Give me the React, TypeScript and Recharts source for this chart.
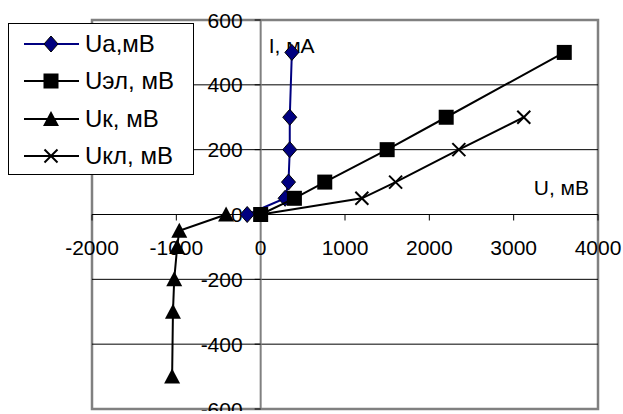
import React from 'react';
import {
  ScatterChart,
  Scatter,
  XAxis,
  YAxis,
  ReferenceLine,
  ReferenceDot,
  ReferenceArea,
  Legend,
} from 'recharts';

// current, mA (shared by Ua and Uэл)
const currentMA = [0, 50, 100, 200, 300, 500];
const uaMV = [-160, 290, 330, 345, 345, 370];
const uelMV = [0, 400, 760, 1500, 2200, 3600];
// Uк is plotted against negative current
const ukCurrent = [0, -50, -100, -200, -300, -500];
const ukMV = [-410, -965, -990, -1025, -1040, -1050];
const uklCurrent = [0, 50, 100, 200, 300];
const uklMV = [0, 1200, 1600, 2350, 3120];

const xTicks = [-2000, -1000, 0, 1000, 2000, 3000, 4000];
const yTicks = [-600, -400, -200, 0, 200, 400, 600];
const gridLines = [-400, -200, 200, 400];

const FONT = '"Liberation Sans", Arial, sans-serif';
const TICK_SIZE = 21;

const toPoints = (xs: number[], ys: number[]) => xs.map((x, i) => ({ x, y: ys[i] }));

const Diamond = ({ cx, cy }: any) => (
  <polygon
    points={`${cx},${cy - 8} ${cx + 7},${cy} ${cx},${cy + 8} ${cx - 7},${cy}`}
    fill="#000080"
    stroke="#000"
    strokeWidth={1}
  />
);
const Square = ({ cx, cy }: any) => <rect x={cx - 7.5} y={cy - 7.5} width={15} height={15} fill="#000" />;
const Triangle = ({ cx, cy }: any) => (
  <polygon points={`${cx},${cy - 8} ${cx + 8},${cy + 7} ${cx - 8},${cy + 7}`} fill="#000" />
);
const Cross = ({ cx, cy }: any) => (
  <g stroke="#000" strokeWidth={2}>
    <line x1={cx - 6.5} y1={cy - 6.5} x2={cx + 6.5} y2={cy + 6.5} />
    <line x1={cx - 6.5} y1={cy + 6.5} x2={cx + 6.5} y2={cy - 6.5} />
  </g>
);

const series = [
  { name: 'Ua,мВ', data: toPoints(uaMV, currentMA), color: '#000080', Shape: Diamond },
  { name: 'Uэл, мВ', data: toPoints(uelMV, currentMA), color: '#000', Shape: Square },
  { name: 'Uк, мВ', data: toPoints(ukMV, ukCurrent), color: '#000', Shape: Triangle },
  { name: 'Uкл, мВ', data: toPoints(uklMV, uklCurrent), color: '#000', Shape: Cross },
];

const LegendBox = () => (
  <div
    style={{
      width: 184,
      height: 149,
      border: '1px solid #000',
      background: '#fff',
      fontFamily: FONT,
      fontSize: 24,
      boxSizing: 'content-box',
      paddingTop: 1,
    }}
  >
    {series.map((s) => (
      <div key={s.name} style={{ display: 'flex', alignItems: 'center', height: 37.5 }}>
        <svg width={72} height={20} style={{ marginLeft: 8, flex: 'none' }}>
          <line x1={7} y1={10} x2={62} y2={10} stroke={s.color} strokeWidth={2} />
          <s.Shape cx={34} cy={10} />
        </svg>
        <span style={{ marginLeft: -4, color: '#000', whiteSpace: 'nowrap' }}>{s.name}</span>
      </div>
    ))}
  </div>
);

export default function App() {
  return (
    <div style={{ position: 'absolute', left: 0, top: 0 }}>
      <ScatterChart width={623} height={411} margin={{ top: 20, right: 25, bottom: 2, left: 92 }}>
        <XAxis type="number" dataKey="x" domain={[-2000, 4000]} hide />
        <YAxis type="number" dataKey="y" domain={[-600, 600]} hide />
        {gridLines.map((g) => (
          <ReferenceLine key={'g' + g} y={g} stroke="#000" strokeWidth={1} />
        ))}
        <ReferenceLine y={0} stroke="#000" strokeWidth={1} />
        <ReferenceLine x={0} stroke="#808080" strokeWidth={2} />
        {xTicks.map((t) => (
          <ReferenceDot
            key={'xt' + t}
            x={t}
            y={0}
            r={0}
            ifOverflow="visible"
            shape={(p: any) => (
              <g>
                <line x1={p.cx} y1={p.cy} x2={p.cx} y2={p.cy + 6} stroke="#000" />
                <text
                  x={p.cx}
                  y={p.cy + 33}
                  textAnchor="middle"
                  dominantBaseline="central"
                  fontFamily={FONT}
                  fontSize={TICK_SIZE}
                  fill="#000"
                >
                  {t}
                </text>
              </g>
            )}
          />
        ))}
        {yTicks.map((t) => (
          <ReferenceDot
            key={'yt' + t}
            x={0}
            y={t}
            r={0}
            ifOverflow="visible"
            shape={(p: any) => (
              <g>
                <line x1={p.cx - 6} y1={p.cy} x2={p.cx} y2={p.cy} stroke="#000" />
                <text
                  x={p.cx - 18}
                  y={p.cy}
                  textAnchor="end"
                  dominantBaseline="central"
                  fontFamily={FONT}
                  fontSize={TICK_SIZE}
                  fill="#000"
                >
                  {t}
                </text>
              </g>
            )}
          />
        ))}
        <ReferenceDot
          x={0}
          y={600}
          r={0}
          ifOverflow="visible"
          shape={(p: any) => (
            <text x={p.cx + 8} y={p.cy + 25} dominantBaseline="central" fontFamily={FONT} fontSize={TICK_SIZE} fill="#000">
              I, мА
            </text>
          )}
        />
        <ReferenceDot
          x={4000}
          y={0}
          r={0}
          ifOverflow="visible"
          shape={(p: any) => (
            <text
              x={p.cx - 9}
              y={p.cy - 27}
              textAnchor="end"
              dominantBaseline="central"
              fontFamily={FONT}
              fontSize={TICK_SIZE}
              fill="#000"
            >
              U, мВ
            </text>
          )}
        />
        {series.map((s) => (
          <Scatter
            key={s.name}
            name={s.name}
            data={s.data}
            line={{ stroke: s.color, strokeWidth: 2 }}
            lineType="joint"
            shape={s.Shape}
            isAnimationActive={false}
          />
        ))}
        <ReferenceArea
          x1={-2000}
          x2={4000}
          y1={-600}
          y2={600}
          fill="none"
          fillOpacity={0}
          stroke="#808080"
          strokeWidth={2.5}
          ifOverflow="visible"
        />
        <Legend
          layout="vertical"
          align="center"
          verticalAlign="middle"
          wrapperStyle={{ left: 8, top: 23, width: 186 }}
          content={() => <LegendBox />}
        />
      </ScatterChart>
    </div>
  );
}
